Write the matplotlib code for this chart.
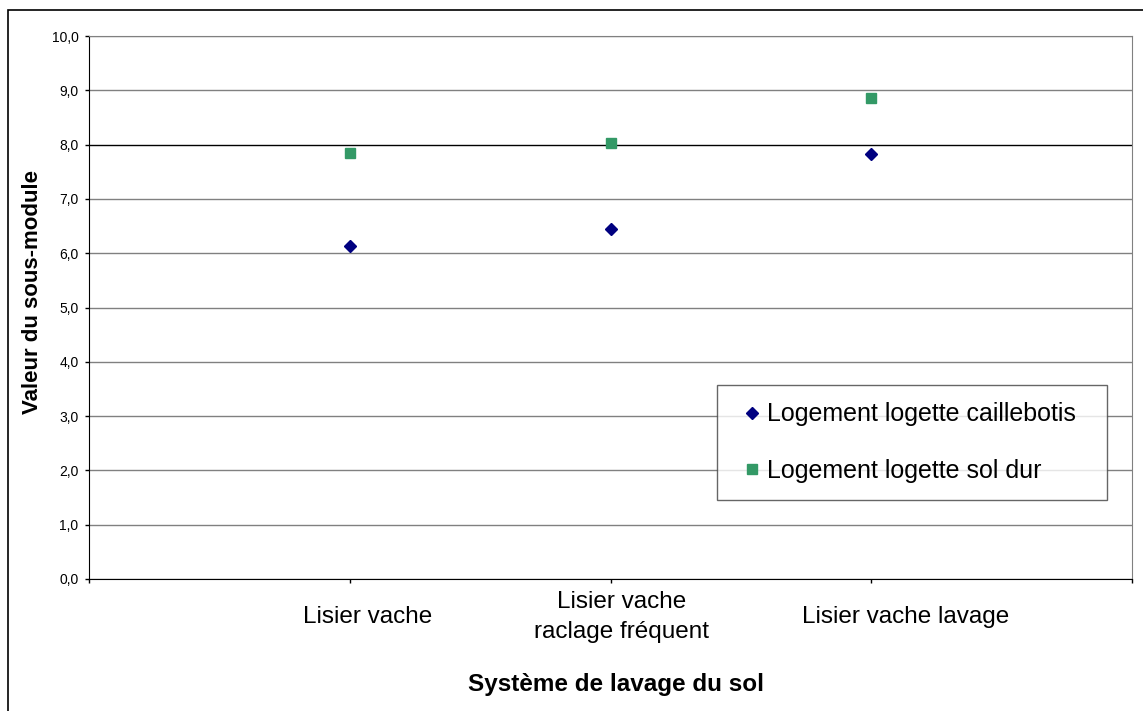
import numpy as np
import matplotlib
matplotlib.use('Agg')
import matplotlib.pyplot as plt
from matplotlib.patches import Rectangle
from matplotlib.transforms import ScaledTranslation

plt.rcParams['font.family'] = ['Liberation Sans', 'DejaVu Sans']

categories = ['Lisier vache', 'Lisier vache\nraclage fréquent', 'Lisier vache lavage']
caillebotis = [6.14, 6.44, 7.83]
sol_dur = [7.84, 8.03, 8.85]
y_ticks = [0, 1, 2, 3, 4, 5, 6, 7, 8, 9, 10]
y_labels = ['%.1f' % v for v in y_ticks]
y_labels = [s.replace('.', ',') for s in y_labels]

# horizontal shift of the category labels (pixels), as drawn in the original
label_shift = [18, 11, 34]

W, H = 1143, 711
fig = plt.figure(figsize=(W/100, H/100), dpi=100)
ax = fig.add_axes([89/W, 1-579/H, (1132-89)/W, (579-36)/H])

x = np.arange(1, len(categories)+1)
ax.plot(x, caillebotis, linestyle='none', marker='D', color='#000080', markersize=6.5,
        label='Logement logette caillebotis')
ax.plot(x, sol_dur, linestyle='none', marker='s', color='#339966', markersize=7.5,
        label='Logement logette sol dur')

ax.set_xlim(0, 4)
ax.set_ylim(0, 10)
ax.set_yticks(y_ticks)
ax.set_yticklabels(y_labels, fontsize=10)
ax.set_xticks(x)
ax.set_xticklabels(categories, fontsize=17.5)
ax.set_xticks([0, 4], minor=True)
ax.tick_params(axis='x', which='both', direction='out', length=3, width=1, pad=24.5)
ax.tick_params(axis='y', direction='out', length=3, width=1, pad=4.5)
for tick, dx in zip(ax.xaxis.get_major_ticks(), label_shift):
    lab = tick.label1
    lab.set_verticalalignment('center')
    lab.set_linespacing(1.48)
    lab.set_transform(lab.get_transform() + ScaledTranslation(dx/100, 0, fig.dpi_scale_trans))

ax.grid(axis='y', color='#808080', linewidth=1)
ax.get_ygridlines()[8].set_color('black')
ax.set_axisbelow(True)
ax.spines['left'].set_color('black')
ax.spines['bottom'].set_color('black')
ax.spines['top'].set_color('#808080')
ax.spines['right'].set_color('#808080')

ax.set_ylabel('Valeur du sous-module', fontsize=16, fontweight='bold', va='center')
ax.yaxis.set_label_coords((33-89)/1043, (579-292)/543)
ax.set_xlabel('Système de lavage du sol', fontsize=17.5, fontweight='bold', va='center')
ax.xaxis.set_label_coords((616-89)/1043, -(684-579)/543)

leg = ax.legend(loc='center', bbox_to_anchor=((717-89)/(1132-89), (579-500)/(579-36),
                (1107-717)/(1132-89), (500-385)/(579-36)),
                mode='expand', fontsize=18, frameon=True, fancybox=False,
                edgecolor='#404040', handlelength=1.4, handletextpad=-0.1,
                labelspacing=1.3, borderaxespad=0, borderpad=0.7, markerscale=0.95)
leg.get_frame().set_linewidth(1)

fig.patches.append(Rectangle((8/W, -0.05), 1.2, 1-10/H+0.05, transform=fig.transFigure,
                             fill=False, edgecolor='black', linewidth=1.2))

fig.savefig('out.png', dpi=100)
